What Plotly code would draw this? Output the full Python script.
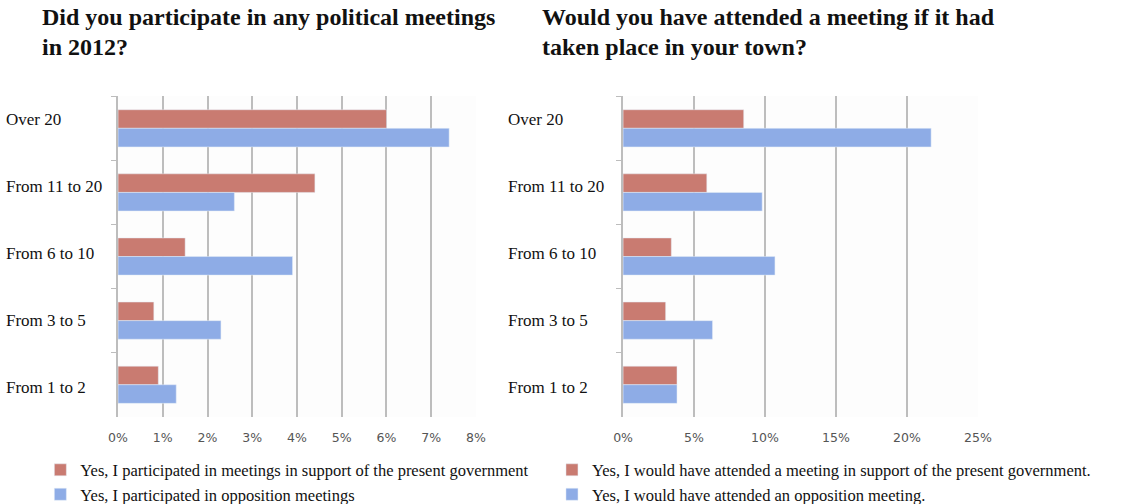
import plotly.graph_objects as go
from plotly.subplots import make_subplots

categories = ["Over 20", "From 11 to 20", "From 6 to 10", "From 3 to 5", "From 1 to 2"]

# Left panel: participation in 2012 (%)
participated_gov = [6.0, 4.4, 1.5, 0.8, 0.9]
participated_opp = [7.4, 2.6, 3.9, 2.3, 1.3]

# Right panel: would have attended in own town (%)
would_gov = [8.5, 5.9, 3.4, 3.0, 3.8]
would_opp = [21.7, 9.8, 10.7, 6.3, 3.8]

left_ticks = [0, 1, 2, 3, 4, 5, 6, 7, 8]
right_ticks = [0, 5, 10, 15, 20, 25]

left_title = ["Did you participate in any political meetings", "in 2012?"]
right_title = ["Would you have attended a meeting if it had", "taken place in your town?"]

RED = "#c97b71"
BLUE = "#8eace6"
GRID = "#bdbdbd"
SERIF = "Liberation Serif, Times New Roman, serif"
SANS = "DejaVu Sans, Arial, sans-serif"

fig = make_subplots(rows=1, cols=2)

fig.add_trace(go.Bar(y=categories, x=participated_gov, orientation="h", marker_color=RED,
                     name="Yes, I participated in meetings in support of the present government",
                     legend="legend"), row=1, col=1)
fig.add_trace(go.Bar(y=categories, x=participated_opp, orientation="h", marker_color=BLUE,
                     name="Yes, I participated in opposition meetings",
                     legend="legend"), row=1, col=1)
fig.add_trace(go.Bar(y=categories, x=would_gov, orientation="h", marker_color=RED,
                     name="Yes, I would have attended a meeting in support of the present government.",
                     legend="legend2"), row=1, col=2)
fig.add_trace(go.Bar(y=categories, x=would_opp, orientation="h", marker_color=BLUE,
                     name="Yes, I would have attended an opposition meeting.",
                     legend="legend2"), row=1, col=2)

y_dom = [0.173, 0.809]
legend_style = dict(xanchor="left", yanchor="top", y=0.102,
                    font=dict(family=SERIF, size=16.5, color="#111"),
                    bgcolor="rgba(0,0,0,0)", tracegroupgap=0, itemwidth=30)
fig.update_layout(
    width=1121, height=504,
    margin=dict(l=0, r=0, t=0, b=0, autoexpand=False),
    paper_bgcolor="white", plot_bgcolor="#fdfdfd",
    barmode="group", bargap=0.42, bargroupgap=0,
    showlegend=True,
    xaxis=dict(domain=[0.1053, 0.4246], range=[0, 8], tickvals=left_ticks,
               ticktext=[f"{v}%" for v in left_ticks]),
    xaxis2=dict(domain=[0.5558, 0.8724], range=[0, 25], tickvals=right_ticks,
                ticktext=[f"{v}%" for v in right_ticks]),
    yaxis=dict(domain=y_dom),
    yaxis2=dict(domain=y_dom),
    legend=dict(x=0.036, **legend_style),
    legend2=dict(x=0.4924, **legend_style),
)

fig.update_xaxes(showgrid=True, gridcolor=GRID, gridwidth=1.5, zeroline=False,
                 showline=False, ticks="", ticklabelstandoff=12,
                 tickfont=dict(family=SANS, size=12.5, color="#555"))
fig.update_yaxes(type="category", autorange="reversed", showticklabels=False,
                 showline=True, linecolor=GRID, linewidth=1.5, ticks="outside",
                 tickson="boundaries", ticklen=5, tickcolor=GRID, showgrid=False)

# Category labels, left-aligned beside each panel; the labels are spread a
# little wider than the bar groups, sitting above the top groups and below the last
for yref, x0 in (("y", 0.004), ("y2", 0.451)):
    for i, c in enumerate(categories):
        fig.add_annotation(x=x0, xref="paper", y=c, yref=yref, text=c, showarrow=False,
                           xanchor="left", yanchor="middle", yshift=9 - 3 * i,
                           font=dict(family=SERIF, size=17, color="#111"))

# Panel titles
for lines, x0 in ((left_title, 0.036), (right_title, 0.482)):
    for i, line in enumerate(lines):
        fig.add_annotation(x=x0, xref="paper", y=1 - (17 + 30 * i) / 504, yref="paper",
                           text=f"<b>{line}</b>", showarrow=False, xanchor="left",
                           yanchor="middle", font=dict(family=SERIF, size=24, color="#111"))

fig.write_html("out.html")
